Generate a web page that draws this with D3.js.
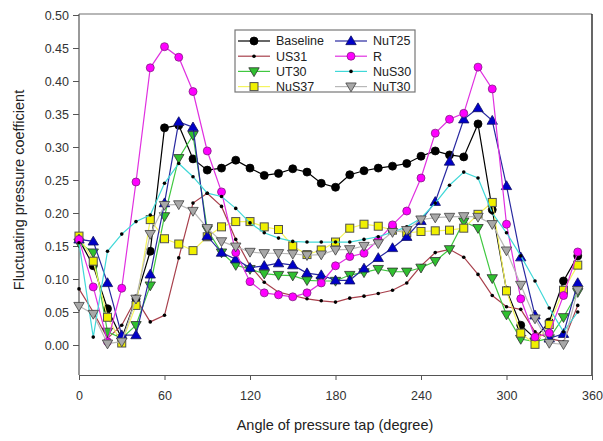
<!DOCTYPE html>
<html>
<head>
<meta charset="utf-8">
<script src="https://cdn.jsdelivr.net/npm/d3@7"></script>
<style>
  body { margin: 0; background: #fff; }
  svg { display: block; font-family: Arial, "Liberation Sans", sans-serif; }
</style>
</head>
<body>
<svg id="chart" width="603" height="441"></svg>
<script>
// ---- data ----
const angles = d3.range(0, 360, 10);
const xTicks = [0, 60, 120, 180, 240, 300, 360];
const yTicks = [0.00, 0.05, 0.10, 0.15, 0.20, 0.25, 0.30, 0.35, 0.40, 0.45, 0.50];

const baseline = [0.160, 0.120, 0.055, 0.010, 0.070, 0.142, 0.329, 0.333, 0.282, 0.265, 0.268, 0.280,
                  0.268, 0.257, 0.260, 0.267, 0.262, 0.245, 0.239, 0.258, 0.264, 0.268, 0.271, 0.275,
                  0.286, 0.294, 0.288, 0.285, 0.335, 0.205, 0.083, 0.030, 0.010, 0.035, 0.097, 0.135];
const us31 = [0.085, 0.050, 0.010, 0.030, 0.070, 0.035, 0.045, 0.132, 0.215, 0.230, 0.210, 0.160,
              0.120, 0.095, 0.080, 0.075, 0.070, 0.067, 0.065, 0.071, 0.074, 0.078, 0.083, 0.094,
              0.120, 0.140, 0.145, 0.133, 0.107, 0.075, 0.058, 0.054, 0.020, 0.010, 0.005, 0.060];
const ut30 = [0.155, 0.140, 0.020, 0.010, 0.030, 0.090, 0.195, 0.283, 0.318, 0.175, 0.140, 0.121,
              0.115, 0.108, 0.106, 0.105, 0.098, 0.097, 0.097, 0.106, 0.110, 0.115, 0.111, 0.111,
              0.117, 0.127, 0.145, 0.187, 0.177, 0.101, 0.046, 0.009, 0.005, 0.010, 0.042, 0.080];
const nus37 = [0.165, 0.127, 0.042, 0.003, 0.060, 0.190, 0.161, 0.153, 0.143, 0.164, 0.179, 0.187,
               0.187, 0.179, 0.175, 0.150, 0.137, 0.144, 0.156, 0.177, 0.183, 0.180, 0.174, 0.170,
               0.172, 0.173, 0.174, 0.177, 0.198, 0.216, 0.082, 0.018, 0.001, 0.031, 0.083, 0.121];
const nut25 = [0.160, 0.157, 0.094, 0.015, 0.015, 0.107, 0.215, 0.338, 0.330, 0.165, 0.140, 0.130,
               0.117, 0.120, 0.124, 0.121, 0.109, 0.106, 0.098, 0.098, 0.116, 0.132, 0.147, 0.164,
               0.188, 0.217, 0.278, 0.342, 0.359, 0.340, 0.241, 0.133, 0.045, 0.010, 0.017, 0.094];
const rSeries = [0.160, 0.088, 0.005, 0.086, 0.247, 0.420, 0.452, 0.436, 0.384, 0.294, 0.232, 0.140,
                 0.096, 0.079, 0.076, 0.073, 0.079, 0.094, 0.120, 0.134, 0.139, 0.159, 0.182, 0.203,
                 0.253, 0.321, 0.342, 0.351, 0.421, 0.388, 0.183, 0.070, 0.012, 0.018, 0.075, 0.141];
const nus30 = [0.155, 0.012, 0.142, 0.168, 0.187, 0.197, 0.245, 0.275, 0.255, 0.230, 0.225, 0.207,
               0.185, 0.170, 0.162, 0.157, 0.156, 0.156, 0.156, 0.156, 0.160, 0.164, 0.171, 0.179,
               0.192, 0.215, 0.242, 0.262, 0.253, 0.200, 0.170, 0.135, 0.097, 0.056, 0.020, 0.050];
const nut30 = [0.059, 0.047, 0.002, 0.005, 0.070, 0.168, 0.212, 0.213, 0.203, 0.177, 0.157, 0.149,
               0.141, 0.139, 0.139, 0.138, 0.136, 0.137, 0.144, 0.145, 0.150, 0.154, 0.171, 0.174,
               0.190, 0.193, 0.194, 0.195, 0.194, 0.183, 0.143, 0.091, 0.040, 0.003, 0.001, 0.083];

const seriesNames = ["Baseline", "US31", "UT30", "NuS37", "NuT25", "R", "NuS30", "NuT30"];
const seriesValues = [baseline, us31, ut30, nus37, nut25, rSeries, nus30, nut30];

// ---- styles ----
const styles = {
  "Baseline": {line: "#000000", shape: "circle", fill: "#000000", stroke: "#000000", size: 4},
  "US31":     {line: "#a8404c", shape: "dot",    fill: "#000000", stroke: "#000000", size: 1.8},
  "UT30":     {line: "#40c840", shape: "tdown",  fill: "#30c030", stroke: "#303030", size: 5.2},
  "NuS37":    {line: "#f4f460", shape: "square", fill: "#f0f000", stroke: "#505050", size: 4},
  "NuT25":    {line: "#2828a0", shape: "tup",    fill: "#0000c8", stroke: "#101060", size: 5.2},
  "R":        {line: "#e030e0", shape: "circle", fill: "#ff00ff", stroke: "#802080", size: 4},
  "NuS30":    {line: "#40d8d8", shape: "dot",    fill: "#000000", stroke: "#000000", size: 1.8},
  "NuT30":    {line: "#b8b8b8", shape: "tdown",  fill: "#a8a8a8", stroke: "#404040", size: 5.2}
};

const svg = d3.select("#chart");
const x = d3.scaleLinear().domain([0, 360]).range([79, 592]);
const y = d3.scaleLinear().domain([0, 0.5]).range([345, 15]);
const yBottom = 375, yTop = 14;

// frame
svg.append("line").attr("x1", 79).attr("x2", 592).attr("y1", yTop).attr("y2", yTop)
  .attr("stroke", "#707070").attr("stroke-width", 1.2);
svg.append("line").attr("x1", 592).attr("x2", 592).attr("y1", yTop).attr("y2", yBottom)
  .attr("stroke", "#000").attr("stroke-width", 1.2);

// axes
const xAxis = svg.append("g").attr("transform", `translate(0,${yBottom})`)
  .call(d3.axisBottom(x).tickValues(xTicks).tickFormat(d3.format("d")).tickSize(5).tickSizeOuter(0));
const yAxis = svg.append("g").attr("transform", `translate(79,0)`)
  .call(d3.axisLeft(y).tickValues(yTicks).tickFormat(d3.format(".2f")).tickSize(6).tickSizeOuter(0));
yAxis.select(".domain").attr("d", `M0,${yTop}V${yBottom}`);
[xAxis, yAxis].forEach(g => {
  g.selectAll(".domain").attr("stroke", "#555").attr("stroke-width", 1.2);
  g.selectAll(".tick line").attr("stroke", "#555");
  g.selectAll(".tick text").attr("fill", "#333").style("font-size", "12.5px");
});
xAxis.selectAll(".tick text").attr("dy", "1.35em");
yAxis.selectAll(".tick text").attr("x", -10);

// titles
svg.append("text").attr("x", 335).attr("y", 430).attr("text-anchor", "middle")
  .attr("fill", "#222").style("font-size", "14.5px").text("Angle of pressure tap (degree)");
svg.append("text").attr("transform", "translate(19,190) rotate(-90)").attr("text-anchor", "middle")
  .attr("fill", "#222").style("font-size", "14.5px").attr("dy", "0.35em").text("Fluctuating pressure coefficient");

// marker drawing
function drawMarker(g, st, cx, cy) {
  const s = st.size;
  if (st.shape === "circle") {
    g.append("circle").attr("cx", cx).attr("cy", cy).attr("r", s)
      .attr("fill", st.fill).attr("stroke", st.stroke).attr("stroke-width", 0.8);
  } else if (st.shape === "dot") {
    g.append("circle").attr("cx", cx).attr("cy", cy).attr("r", s).attr("fill", st.fill);
  } else if (st.shape === "square") {
    g.append("rect").attr("x", cx - s).attr("y", cy - s).attr("width", 2 * s).attr("height", 2 * s)
      .attr("fill", st.fill).attr("stroke", st.stroke).attr("stroke-width", 1);
  } else if (st.shape === "tup") {
    g.append("path").attr("d", `M${cx},${cy - s}L${cx + s},${cy + s * 0.7}L${cx - s},${cy + s * 0.7}Z`)
      .attr("fill", st.fill).attr("stroke", st.stroke).attr("stroke-width", 0.8);
  } else if (st.shape === "tdown") {
    g.append("path").attr("d", `M${cx},${cy + s}L${cx + s},${cy - s * 0.7}L${cx - s},${cy - s * 0.7}Z`)
      .attr("fill", st.fill).attr("stroke", st.stroke).attr("stroke-width", 0.8);
  }
}

const line = d3.line().x((d, i) => x(angles[i])).y(d => y(d));
const plot = svg.append("g");
seriesNames.forEach((name, k) => {
  const st = styles[name];
  const g = plot.append("g");
  g.append("path").datum(seriesValues[k]).attr("d", line)
    .attr("fill", "none").attr("stroke", st.line).attr("stroke-width", 1.2);
  seriesValues[k].forEach((v, i) => drawMarker(g, st, x(angles[i]), y(v)));
});

// legend
const lg = svg.append("g");
lg.append("rect").attr("x", 235).attr("y", 30).attr("width", 180).attr("height", 62)
  .attr("fill", "#fff").attr("stroke", "#777").attr("stroke-width", 1.2);
seriesNames.forEach((name, k) => {
  const st = styles[name];
  const col = Math.floor(k / 4), row = k % 4;
  const lx = col === 0 ? 238 : 335;
  const ly = 41 + row * 15.2;
  lg.append("line").attr("x1", lx).attr("x2", lx + 32).attr("y1", ly).attr("y2", ly)
    .attr("stroke", st.line).attr("stroke-width", 1.2);
  drawMarker(lg, st, lx + 16, ly);
  lg.append("text").attr("x", lx + 38).attr("y", ly).attr("dy", "0.35em")
    .attr("fill", "#222").style("font-size", "12.5px").text(name);
});
</script>
</body>
</html>
